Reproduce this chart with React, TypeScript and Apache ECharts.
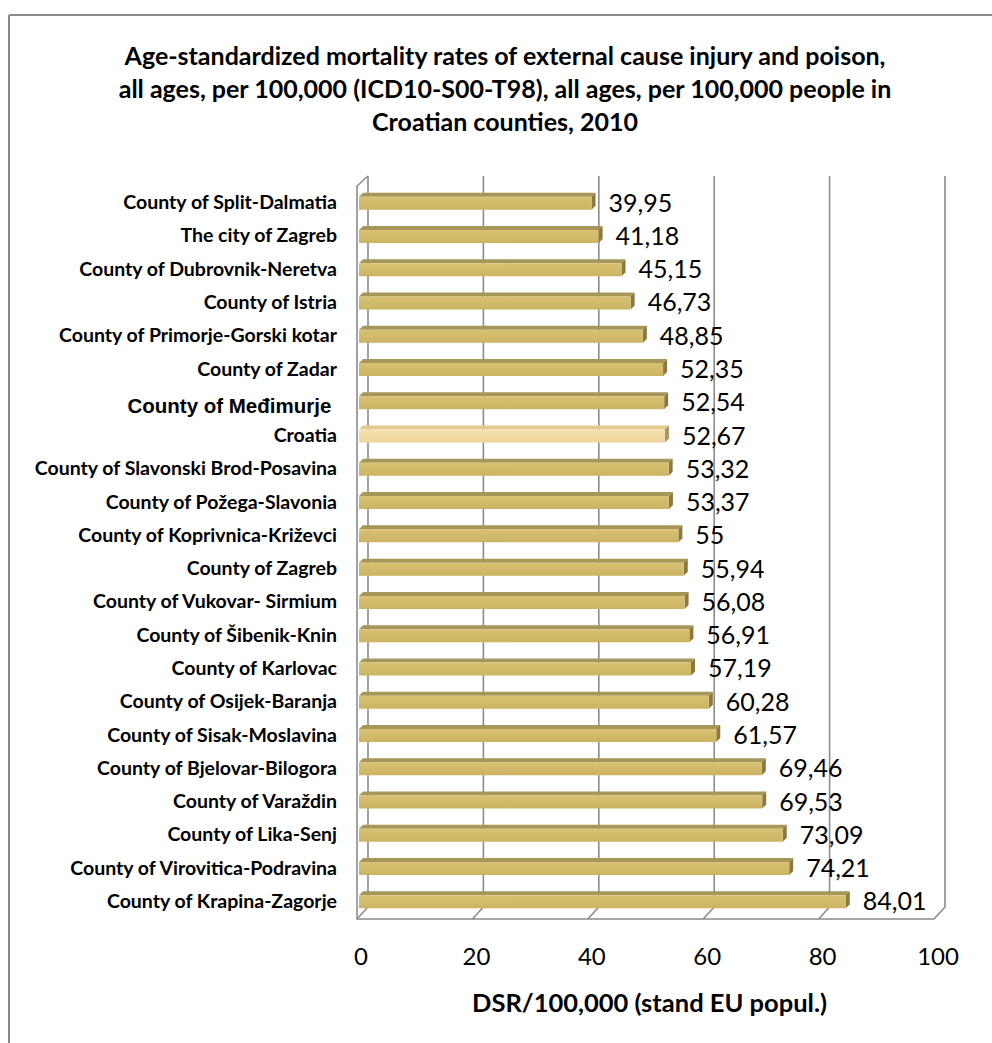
import React, { useEffect, useRef } from "react";
import * as echarts from "echarts";

const categories: string[] = [
  "County of Split-Dalmatia",
  "The city of Zagreb",
  "County of Dubrovnik-Neretva",
  "County of Istria",
  "County of Primorje-Gorski kotar",
  "County of Zadar",
  "County of Međimurje",
  "Croatia",
  "County of Slavonski Brod-Posavina",
  "County of Požega-Slavonia",
  "County of Koprivnica-Križevci",
  "County of Zagreb",
  "County of Vukovar- Sirmium",
  "County of Šibenik-Knin",
  "County of Karlovac",
  "County of Osijek-Baranja",
  "County of Sisak-Moslavina",
  "County of Bjelovar-Bilogora",
  "County of Varaždin",
  "County of Lika-Senj",
  "County of Virovitica-Podravina",
  "County of Krapina-Zagorje",
];

const values: number[] = [
  39.95, 41.18, 45.15, 46.73, 48.85, 52.35, 52.54, 52.67, 53.32, 53.37, 55,
  55.94, 56.08, 56.91, 57.19, 60.28, 61.57, 69.46, 69.53, 73.09, 74.21, 84.01,
];

const xTicks: number[] = [0, 20, 40, 60, 80, 100];

const titleText =
  "Age-standardized mortality rates of external cause injury and poison,\nall ages, per 100,000 (ICD10-S00-T98), all ages, per 100,000 people in\nCroatian counties, 2010";
const xAxisName = "DSR/100,000 (stand EU popul.)";
const highlightCategory = "Croatia";

const fmt = (v: number) => String(v).replace(".", ",");

export default function App() {
  const ref = useRef<HTMLDivElement>(null);

  useEffect(() => {
    if (!ref.current) return;
    const chart = echarts.init(ref.current, undefined, { renderer: "svg" });

    const gridColor = "#8c8c8c";

    const option: any = {
      animation: false,
      backgroundColor: "#ffffff",
      title: {
        text: titleText,
        left: 500,
        top: 33,
        textAlign: "center",
        textStyle: {
          fontFamily: "Lato",
          fontWeight: "bold",
          fontSize: 25,
          lineHeight: 33,
          color: "#000",
        },
      },
      graphic: [
        {
          type: "line",
          shape: { x1: 9, y1: 15, x2: 992, y2: 15 },
          style: { stroke: "#898989", lineWidth: 2 },
        },
        {
          type: "line",
          shape: { x1: 9, y1: 15, x2: 9, y2: 1043 },
          style: { stroke: "#898989", lineWidth: 2 },
        },
      ],
      grid: {
        left: 361,
        right: 54,
        top: 185,
        bottom: 126,
        containLabel: false,
      },
      xAxis: {
        type: "value",
        min: 0,
        max: 100,
        interval: 20,
        axisLine: { show: false },
        axisTick: { show: false },
        splitLine: { show: false },
        axisLabel: {
          fontFamily: "Lato",
          fontSize: 24,
          color: "#000",
          margin: 26,
        },
        name: xAxisName,
        nameLocation: "middle",
        nameGap: 72,
        nameTextStyle: {
          fontFamily: "Lato",
          fontWeight: "bold",
          fontSize: 25.5,
          color: "#000",
        },
      },
      yAxis: {
        type: "category",
        data: categories,
        inverse: true,
        axisLine: { show: false },
        axisTick: { show: false },
        splitLine: { show: false },
        axisLabel: {
          fontFamily: "Lato",
          fontWeight: "bold",
          fontSize: 19.5,
          color: "#000",
          margin: 24,
          formatter: (val: string) =>
            val === "County of Međimurje" ? "{m|" + val + " }" : val,
          rich: {
            m: {
              fontFamily: "Liberation Sans",
              fontWeight: "bold",
              fontSize: 20.5,
              color: "#000",
              padding: [8, 0, 0, 0],
            },
          },
        },
      },
      series: [
        {
          type: "custom",
          name: "walls",
          clip: false,
          silent: true,
          z: 1,
          data: xTicks.map((t) => [t, 0]),
          renderItem: (params: any, api: any) => {
            const v = api.value(0);
            const cs = params.coordSys;
            const x = api.coord([v, 0])[0];
            const topY = cs.y - 9;
            const backBottom = cs.y + cs.height - 10;
            const frontBottom = cs.y + cs.height + 2;
            const children: any[] = [
              {
                type: "polyline",
                shape: {
                  points: [
                    [x + 7, topY],
                    [x + 7, backBottom],
                    [x - 4, frontBottom],
                  ],
                },
                style: { stroke: gridColor, lineWidth: 1.6, fill: null },
              },
            ];
            if (v === 0) {
              children.push({
                type: "polyline",
                shape: {
                  points: [
                    [x + 7, topY],
                    [x - 4, topY + 10],
                    [x - 4, frontBottom],
                    [cs.x + cs.width - 4, frontBottom],
                  ],
                },
                style: { stroke: gridColor, lineWidth: 1.6, fill: null },
              });
            }
            return { type: "group", children };
          },
        },
        {
          type: "custom",
          name: "bars",
          clip: false,
          z: 3,
          data: values.map((v, i) => [v, i]),
          renderItem: (params: any, api: any) => {
            const v = api.value(0);
            const i = api.value(1);
            const [x1, cy] = api.coord([v, i]);
            const x0 = api.coord([0, i])[0] - 2;
            const hl = categories[i] === highlightCategory;
            const d = 4;
            const yt = cy - 5;
            const yb = cy + 8;
            const front = hl
              ? new echarts.graphic.LinearGradient(0, 0, 0, 1, [
                  { offset: 0, color: "#f6e2b0" },
                  { offset: 1, color: "#efd49a" },
                ])
              : new echarts.graphic.LinearGradient(0, 0, 0, 1, [
                  { offset: 0, color: "#d8c273" },
                  { offset: 1, color: "#cbb362" },
                ]);
            return {
              type: "group",
              children: [
                {
                  type: "polygon",
                  shape: {
                    points: [
                      [x0, yt],
                      [x1, yt],
                      [x1 + d, yt - d],
                      [x0 + d, yt - d],
                    ],
                  },
                  style: { fill: hl ? "#e3c98e" : "#a6965a" },
                },
                {
                  type: "polygon",
                  shape: {
                    points: [
                      [x1, yt],
                      [x1 + d, yt - d],
                      [x1 + d, yb - d],
                      [x1, yb],
                    ],
                  },
                  style: { fill: hl ? "#a8955f" : "#8a7a42" },
                },
                {
                  type: "rect",
                  shape: { x: x0, y: yt, width: x1 - x0, height: yb - yt },
                  style: { fill: front },
                },
                {
                  type: "text",
                  style: {
                    x: x1 + 17,
                    y: cy,
                    text: fmt(v),
                    fontFamily: "Lato",
                    fontSize: 25,
                    fill: "#000",
                    align: "left",
                    verticalAlign: "middle",
                  },
                },
              ],
            };
          },
        },
      ],
    };

    chart.setOption(option);
    return () => chart.dispose();
  }, []);

  return (
    <div
      ref={ref}
      style={{
        position: "fixed",
        left: 0,
        top: 0,
        width: 992,
        height: 1043,
        background: "#fff",
      }}
    />
  );
}
